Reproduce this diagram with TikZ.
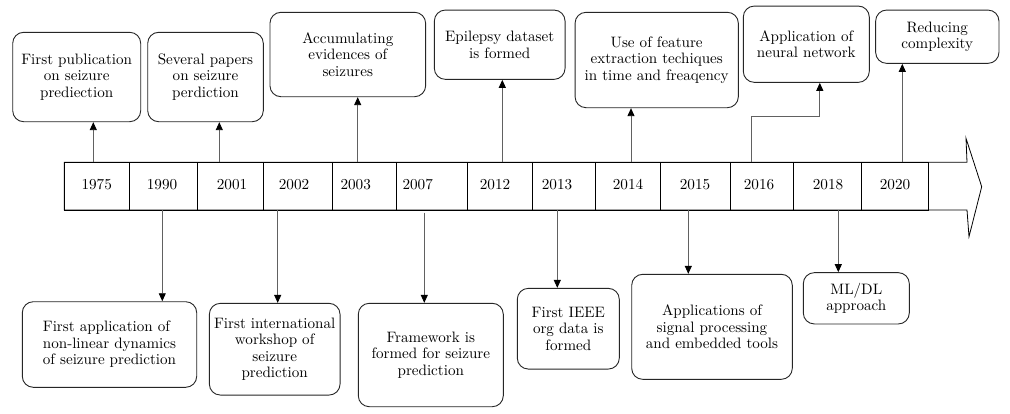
\documentclass[tikz,border=0pt]{standalone}
\usepackage{fontspec}
\setmainfont{lmroman10-regular.otf}
\usetikzlibrary{arrows.meta}
\begin{document}
\begin{tikzpicture}[x=1pt,y=-1pt,
  box/.style={draw=black!85, line width=0.9pt, rounded corners=11pt, inner sep=0pt, align=center,
    font=\fontsize{15.1}{16.6}\selectfont},
  cell/.style={draw=black, line width=0.8pt, minimum height=47.7pt, inner sep=0pt},
  yr/.style={inner sep=0pt, font=\fontsize{15.2}{16.5}\selectfont},
  conn/.style={draw=black!62, line width=0.9pt, -{Triangle[length=8pt,width=7pt,color=black]}}]
\useasboundingbox[fill=white] (0,0) rectangle (1010,413);
% timeline arrow
\draw[line width=0.8pt, line join=miter] (64.3,162.3) -- (967,162.3) -- (966,138.3) -- (981.7,186.7) -- (969,236.7) -- (967,210) -- (64.3,210) -- cycle;
% cells
\node[cell, minimum width=65pt]   (c1975) at (96.8,186.2) {};
\node[cell, minimum width=68.4pt] (c1990) at (163.5,186.2) {};
\node[cell, minimum width=65.6pt] (c2001) at (230.5,186.2) {};
\node[cell, minimum width=69pt]   (c2002) at (297.8,186.2) {};
\node[cell, minimum width=64.4pt] (c2003) at (364.5,186.2) {};
\node[cell, minimum width=70.3pt] (c2007) at (431.85,186.2) {};
\node[cell, minimum width=65.3pt] (c2012) at (499.65,186.2) {};
\node[cell, minimum width=62.7pt] (c2013) at (563.65,186.2) {};
\node[cell, minimum width=65pt]   (c2014) at (627.5,186.2) {};
\node[cell, minimum width=70pt]   (c2015) at (695,186.2) {};
\node[cell, minimum width=63.3pt] (c2016) at (761.65,186.2) {};
\node[cell, minimum width=68.4pt] (c2018) at (827.5,186.2) {};
\node[cell, minimum width=66.6pt] (c2020) at (895,186.2) {};
% year labels
\node[yr] (t1975) at (96.7,184.7) {1975};
\node[yr] (t1990) at (162,184.7) {1990};
\node[yr] (t2001) at (232,184.7) {2001};
\node[yr] (t2002) at (294,184.7) {2002};
\node[yr] (t2003) at (355.7,184.7) {2003};
\node[yr] (t2007) at (417.7,184.7) {2007};
\node[yr] (t2012) at (495,184.7) {2012};
\node[yr] (t2013) at (557,184.7) {2013};
\node[yr] (t2014) at (628,184.7) {2014};
\node[yr] (t2015) at (695,184.7) {2015};
\node[yr] (t2016) at (759,184.7) {2016};
\node[yr] (t2018) at (828,184.7) {2018};
\node[yr] (t2020) at (895,184.7) {2020};
% upper boxes
\node[box, minimum width=128pt, minimum height=89.4pt] (b1) at (76.7,77) {First publication\\on seizure\\prediection};
\node[box, minimum width=115.6pt, minimum height=89.4pt] (b2) at (205.5,77) {Several papers\\on seizure\\perdiction};
\node[box, minimum width=155.7pt, minimum height=84.4pt] (b3) at (347.8,54.5) {Accumulating\\evidences of\\seizures};
\node[box, minimum width=130.7pt, minimum height=69.3pt] (b4) at (499.7,44.7) {Epilepsy dataset\\is formed};
\node[box, minimum width=163.3pt, minimum height=95.4pt] (b5) at (656.7,60) {Use of feature\\extraction techiques\\in time and freaqency};
\node[box, minimum width=126pt, minimum height=76.3pt] (b6) at (806.3,44.2) {Application of\\neural network};
\node[box, minimum width=123.3pt, minimum height=53.3pt] (b7) at (937.3,36.7) {Reducing\\complexity};
% lower boxes
\node[box, align=left, minimum width=174.4pt, minimum height=85.6pt] (b8) at (109.5,344.5) {First application of\\non-linear dynamics\\of seizure prediction};
\node[box, minimum width=130.7pt, minimum height=91.7pt] (b9) at (274.7,349.2) {First international\\workshop of\\seizure\\prediction};
\node[box, minimum width=145pt, minimum height=103.4pt] (b10) at (430.8,355) {Framework is\\formed for seizure\\prediction};
\node[box, minimum width=102pt, minimum height=80.7pt] (b11) at (568.3,328.7) {First IEEE\\org data is\\formed};
\node[box, minimum width=160.6pt, minimum height=105pt] (b12) at (712,326.8) {Applications of\\signal processing\\and embedded tools};
\node[box, minimum width=106pt, minimum height=51.3pt] (b13) at (856.3,298.3) {ML/DL\\approach};
% connector start points
\coordinate (s1975) at (93.3,162.3);
\coordinate (s2001) at (219.3,162.3);
\coordinate (s2003) at (357.7,162.3);
\coordinate (s2012) at (502.3,162.3);
\coordinate (s2014) at (631,162.3);
\coordinate (s2016) at (751,162.3);
\coordinate (k2016) at (819.8,116.7);
\coordinate (s2020) at (902.3,162.3);
\coordinate (d1990) at (162.3,210);
\coordinate (d2002) at (277.7,210);
\coordinate (d2007) at (424.3,212.7);
\coordinate (d2013) at (557.3,210);
\coordinate (d2015) at (688.3,210);
\coordinate (d2018) at (838.3,210);
% connectors
\draw[conn] (s1975) -- (s1975 |- b1.south);
\draw[conn] (s2001) -- (s2001 |- b2.south);
\draw[conn] (s2003) -- (s2003 |- b3.south);
\draw[conn] (s2012) -- (s2012 |- b4.south);
\draw[conn] (s2014) -- (s2014 |- b5.south);
\draw[conn] (s2016) |- (k2016) -- (k2016 |- b6.south);
\draw[conn] (s2020) -- (s2020 |- b7.south);
\draw[conn] (d1990) -- (d1990 |- b8.north);
\draw[conn] (d2002) -- (d2002 |- b9.north);
\draw[conn] (d2007) -- (d2007 |- b10.north);
\draw[conn] (d2013) -- (d2013 |- b11.north);
\draw[conn] (d2015) -- (d2015 |- b12.north);
\draw[conn] (d2018) -- (d2018 |- b13.north);
\end{tikzpicture}
\end{document}
